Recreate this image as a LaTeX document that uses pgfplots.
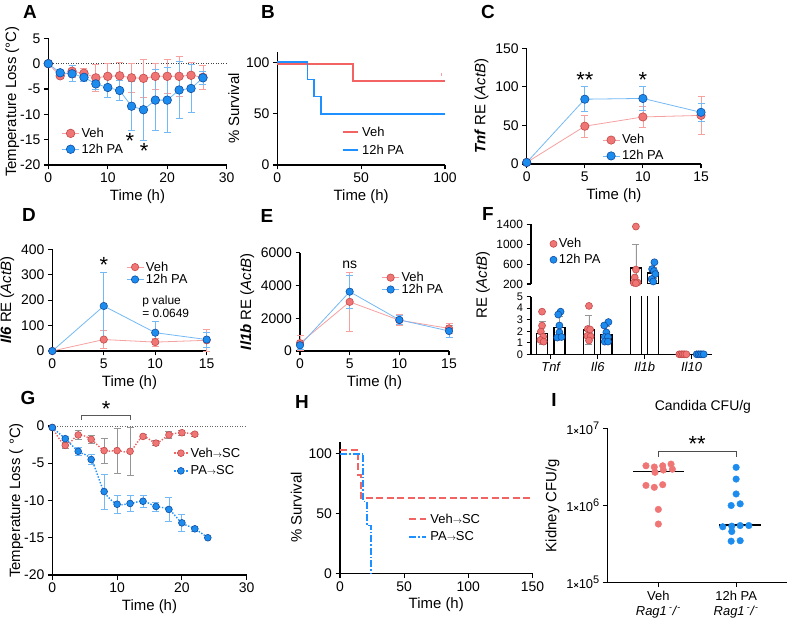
\documentclass[border=0pt]{standalone}
\usepackage{pgfplots}
\usepackage{pgfplotstable}
\pgfplotsset{compat=1.18}
\usepackage{fontspec}
\setmainfont{Liberation Sans}

\definecolor{vr}{RGB}{240,118,118}
\definecolor{vrd}{RGB}{196,74,74}
\definecolor{pb}{RGB}{28,140,238}
\definecolor{pbd}{RGB}{18,78,160}
\definecolor{vl}{RGB}{246,160,160}
\definecolor{pl}{RGB}{115,185,245}
\definecolor{vline}{RGB}{242,100,100}
\definecolor{pline}{RGB}{30,144,255}
\definecolor{gr}{RGB}{150,150,150}

\newcommand\fTk{\fontsize{14}{16}\selectfont}
\newcommand\fLb{\fontsize{15}{17}\selectfont}
\newcommand\fLg{\fontsize{13}{15}\selectfont}
\newcommand\fPl{\fontsize{19}{21}\selectfont\bfseries}
\newcommand\fSt{\fontsize{22}{22}\selectfont}
\newcommand\arr{{\fontsize{9}{9}\selectfont$\rightarrow$}}
\newcommand\tenpow[1]{1{\fontsize{9}{9}\selectfont\bfseries ×}10\raisebox{5bp}{\fontsize{11}{11}\selectfont #1}}

% ---------- A
\pgfplotstableread{
t v e
0 0 0
2 -2.4 0.6
4 -1.5 1.2
6 -1.9 1.0
8 -2.8 2.6
10 -2.5 2.5
12 -2.4 2.6
14 -2.8 2.9
16 -2.9 3.7
18 -2.5 2.5
20 -2.5 3.4
22 -2.5 3.9
24 -2.3 2.5
26 -2.7 2.3
}\Aveh
\pgfplotstableread{
t v e
0 0 0
2 -1.8 0.5
4 -2.0 1.6
6 -2.7 0.8
8 -4.0 1.0
10 -4.7 2.0
12 -5.3 2.0
14 -8.4 4.8
16 -9.1 6.0
18 -7.2 6.0
20 -7.2 6.4
22 -5.2 5.6
24 -4.9 4.8
26 -2.8 1.2
}\Apa
% ---------- C
\pgfplotstableread{
t v e
0 2 0
5 49 14
10 61 14
15 63 24
}\Cveh
\pgfplotstableread{
t v e
0 2 0
5 84 16
10 85 15
15 67 12
}\Cpa
% ---------- D
\pgfplotstableread{
t v e
0 0 0
5 45 35
10 35 15
15 42 43
}\Dveh
\pgfplotstableread{
t v e
0 0 0
5 177 134
10 72 43
15 45 30
}\Dpa
% ---------- E
\pgfplotstableread{
t v e
0 480 450
5 3000 1820
10 1880 330
15 1380 300
}\Eveh
\pgfplotstableread{
t v e
0 350 250
5 3620 1000
10 1900 300
15 1220 370
}\Epa
% ---------- G
\pgfplotstableread{
t v e
0 -0.2 0
2 -2.6 0.4
4 -1.2 0.6
6 -1.8 0.5
8 -3.3 1.7
10 -3.3 3.0
12 -3.4 3.2
14 -1.4 0.3
16 -2.3 0.3
18 -1.2 0.5
20 -0.9 0.3
22 -1.1 0.3
}\Gveh
\pgfplotstableread{
t v e
0 -0.2 0
2 -1.7 0.3
4 -3.4 0.5
6 -4.5 0.7
8 -8.8 2.35
10 -10.5 1.2
12 -10.4 1.1
14 -10.1 0.8
16 -10.8 0.6
18 -11.2 1.55
20 -13.0 1.15
22 -13.8 0.3
24 -15.0 0
}\Gpa

\pgfplotsset{
 pan/.style={scale only axis, anchor=south west,
   axis x line*=bottom, axis y line*=left,
   axis line style={line width=1.3bp,-,black},
   every tick/.style={line width=1.1bp,black},
   tick align=outside, major tick length=4.5bp,
   tick label style={font=\fTk}, label style={font=\fLb},
   /pgf/number format/assume math mode=true,
   /pgf/number format/set thousands separator={},
   legend style={draw=none, fill=none, font=\fLg, inner sep=0pt, row sep=1bp, nodes={inner sep=2bp}},
   legend cell align=left, clip=false},
 eb/.style={/pgfplots/error bars/y dir=both, /pgfplots/error bars/y explicit,
   /pgfplots/error bars/error bar style={color=#1, line width=0.8bp, solid},
   /pgfplots/error bars/error mark options={rotate=90, mark size=3.5bp, color=#1, line width=0.8bp, solid}},
 mveh/.style={mark=*, mark size=#1, mark options={fill=vr, draw=vrd, line width=0.6bp, solid}},
 mpa/.style={mark=*, mark size=#1, mark options={fill=pb, draw=pbd, line width=0.6bp, solid}},
}

\begin{document}
\begin{tikzpicture}
\useasboundingbox (0,0) rectangle (788bp,623bp);

% ================= A
\begin{axis}[pan, at={(48.3bp,458bp)}, width=178.4bp, height=126.7bp,
  xmin=0,xmax=30, ymin=-20,ymax=5, xtick={0,10,20,30}, ytick={-20,-15,...,5},
  xlabel={Time (h)}, ylabel={Temperature Loss (°C)}, ylabel shift=-6bp,
  legend style={at={(0.074,0.31)}, anchor=north west}]
\addplot[forget plot, black!75, line width=0.8bp, dash pattern=on 1bp off 1.5bp] coordinates {(0,0)(30,0)};
\addplot[vl, line width=0.8bp, mveh=4.3bp, eb=vl] table[x=t,y=v,y error=e]{\Aveh};
\addlegendentry{Veh}
\addplot[pl, line width=0.8bp, mpa=4.3bp, eb=pl] table[x=t,y=v,y error=e]{\Apa};
\addlegendentry{12h PA}
\node[font=\fSt] at (axis cs:13.7,-15.3) {*};
\node[font=\fSt] at (axis cs:16.1,-17.3) {*};
\end{axis}

% ================= B
\begin{axis}[pan, at={(277.3bp,458bp)}, width=167.7bp, height=113bp,
  xmin=0,xmax=100, ymin=0,ymax=110, xtick={0,50,100}, ytick={0,50,100},
  xlabel={Time (h)}, ylabel={\% Survival},
  legend image code/.code={\draw[#1, line width=1.8bp] (0bp,0bp)--(15bp,0bp);},
  legend style={at={(0.384,0.37)}, anchor=north west, row sep=0bp, nodes={inner sep=3.5bp}}]
\addplot[vline, line width=1.8bp] coordinates {(0,98.5)(45,98.5)(45,82)(100,82)};
\addlegendentry{Veh}
\addplot[pline, line width=1.8bp] coordinates {(0,100)(18,100)(18,83.3)(22,83.3)(22,66.7)(26,66.7)(26,50)(100,50)};
\addlegendentry{12h PA}
\addplot[forget plot, vl, line width=0.8bp] coordinates {(98,87)(98,90)};
\end{axis}

% ================= C
\begin{axis}[pan, at={(526.7bp,459bp)}, width=174.3bp, height=115.7bp,
  xmin=0,xmax=15, ymin=0,ymax=150, xtick={0,5,10,15}, ytick={0,50,100,150},
  xlabel={Time (h)}, ylabel={\textbf{\textit{Tnf}} RE (\textit{ActB})},
  legend style={at={(0.432,0.273)}, anchor=north west}]
\addplot[vl, line width=0.8bp, mveh=4.2bp, eb=vl] table[x=t,y=v,y error=e]{\Cveh};
\addlegendentry{Veh}
\addplot[pl, line width=0.8bp, mpa=4.2bp, eb=pl] table[x=t,y=v,y error=e]{\Cpa};
\addlegendentry{12h PA}
\node[font=\fSt] at (axis cs:5,109) {**};
\node[font=\fSt] at (axis cs:10,109) {*};
\end{axis}

% ================= D
\begin{axis}[pan, at={(52.3bp,272bp)}, width=154.4bp, height=101.7bp,
  xmin=0,xmax=15, ymin=0,ymax=400, xtick={0,5,10,15}, ytick={0,100,...,400},
  xlabel={Time (h)}, ylabel={\textbf{\textit{Il6}} RE (\textit{ActB})},
  legend style={at={(0.477,0.90)}, anchor=north west, row sep=-2.5bp}]
\addplot[vl, line width=0.8bp, mveh=3.7bp, eb=vl] table[x=t,y=v,y error=e]{\Dveh};
\addlegendentry{Veh}
\addplot[pl, line width=0.8bp, mpa=3.7bp, eb=pl] table[x=t,y=v,y error=e]{\Dpa};
\addlegendentry{12h PA}
\node[font=\fSt] at (axis cs:5,340) {*};
\node[font=\fontsize{12}{13}\selectfont, align=left, anchor=west] at (axis cs:8.4,175) {p value\\= 0.0649};
\end{axis}

% ================= E
\begin{axis}[pan, at={(300bp,272bp)}, width=149bp, height=98.3bp,
  xmin=0,xmax=15, ymin=0,ymax=6000, xtick={0,5,10,15}, ytick={0,2000,4000,6000},
  scaled y ticks=false,
  xlabel={Time (h)}, ylabel={\textbf{\textit{Il1b}} RE (\textit{ActB})},
  legend style={at={(0.547,0.824)}, anchor=north west, row sep=-3bp}]
\addplot[vl, line width=0.8bp, mveh=3.7bp, eb=vl] table[x=t,y=v,y error=e]{\Eveh};
\addlegendentry{Veh}
\addplot[pl, line width=0.8bp, mpa=3.7bp, eb=pl] table[x=t,y=v,y error=e]{\Epa};
\addlegendentry{12h PA}
\node[font=\fTk] at (axis cs:5,5250) {ns};
\end{axis}

% ================= F lower
\begin{axis}[pan, at={(531bp,268.7bp)}, width=180.7bp, height=57.6bp, clip=true,
  xmin=0.58,xmax=4.43, ymin=0,ymax=5, ytick={0,...,5}, xtick={1,2,3,4},
  yticklabel style={font=\fontsize{11}{12}\selectfont},
  xticklabels={Tnf,Il6,Il1b,Il10},
  xticklabel style={font=\fontsize{13}{15}\selectfont\itshape}]
\addplot[ybar, bar width=0.235, bar shift=0pt, fill=white, draw=black, line width=1.3bp,
  eb=gr] coordinates {(0.815,1.82) +- (0,1.0) (1.815,2.1) +- (0,1.25) (3.815,0.03) +- (0,0)};
\addplot[ybar, bar width=0.235, bar shift=0pt, fill=white, draw=black, line width=1.3bp,
  eb=gr] coordinates {(1.185,2.31) +- (0,0.95) (2.185,1.73) +- (0,0.72) (4.185,0.03) +- (0,0)};
\addplot[ybar, bar width=0.235, bar shift=0pt, fill=white, draw=black, line width=1.3bp]
  coordinates {(2.815,520) (3.185,420)};
\addplot[only marks, mveh=3.5bp] coordinates {
 (0.815,3.7) (0.815,2.49) (0.79,1.97) (0.84,1.53) (0.78,1.24) (0.85,1.1)
 (1.815,4.2) (1.79,2.2) (1.84,2.15) (1.78,1.6) (1.85,1.55) (1.815,1.2)
 (3.74,0) (3.78,0) (3.815,0) (3.85,0) (3.89,0)};
\addplot[only marks, mpa=3.5bp] coordinates {
 (1.21,3.7) (1.16,3.45) (1.185,2.5) (1.185,1.9) (1.14,1.45) (1.23,1.5)
 (2.23,2.8) (2.14,2.5) (2.185,1.9) (2.15,1.5) (2.22,1.5) (2.15,1.1) (2.22,1.1)
 (4.11,0) (4.15,0) (4.185,0) (4.22,0) (4.26,0)};
\end{axis}

% ================= F upper
\begin{axis}[pan, at={(531bp,339bp)}, width=180.7bp, height=59.7bp, clip=true,
  axis x line=none, xmin=0.58,xmax=4.43, ymin=200,ymax=1400, ytick={200,600,1000,1400},
  scaled y ticks=false,
  yticklabel style={font=\fontsize{12}{13}\selectfont},
  legend style={at={(0.104,0.80)}, anchor=north west}]
\addplot[forget plot, ybar, bar width=0.235, bar shift=0pt, fill=white, draw=black, line width=1.3bp,
  eb=gr] coordinates {(2.815,520) +- (0,480) (3.185,420) +- (0,115)};
\addplot[only marks, mveh=3.5bp] coordinates {
 (2.815,1355) (2.815,490) (2.79,330) (2.77,225) (2.85,230) (2.815,215)};
\addlegendentry{Veh}
\addplot[only marks, mpa=3.5bp] coordinates {
 (3.21,637) (3.16,500) (3.2,460) (3.23,400) (3.15,300) (3.185,250)};
\addlegendentry{12h PA}
\end{axis}
\node[rotate=90, font=\fLb] at (483bp,338bp) {RE (\textit{ActB})};

% ================= G
\begin{axis}[pan, at={(52.3bp,48bp)}, width=194.4bp, height=149bp,
  xmin=0,xmax=30, ymin=-20,ymax=0, xtick={0,10,20,30}, ytick={-20,-15,...,0},
  xlabel={Time (h)}, ylabel={Temperature Loss ( °C)}, ylabel shift=-6bp,
  legend image code/.code={\draw[mark repeat=2,mark phase=2,#1] plot coordinates {(0bp,0bp)(7bp,0bp)(14bp,0bp)};},
  legend style={at={(0.621,0.869)}, anchor=north west, row sep=3bp}]
\addplot[forget plot, black!60, line width=0.8bp, dash pattern=on 1bp off 1.5bp] coordinates {(0,0)(30,0)};
\addplot[vline, smooth, line width=1.4bp, dash pattern=on 1.4bp off 1.6bp, mveh=3.4bp, eb=gr] table[x=t,y=v,y error=e]{\Gveh};
\addlegendentry{Veh\arr SC}
\addplot[pline, smooth, line width=1.4bp, dash pattern=on 1.4bp off 1.6bp, mpa=3.4bp, eb=pl] table[x=t,y=v,y error=e]{\Gpa};
\addlegendentry{PA\arr SC}
\draw[black!65, line width=0.9bp] (axis cs:4.5,0.85) -- (axis cs:4.5,1.4) -- (axis cs:12,1.4) -- (axis cs:12,0.85);
\node[font=\fSt] at (axis cs:8.3,2.3) {*};
\end{axis}

% ================= H
\begin{axis}[pan, at={(340bp,49.7bp)}, width=192.5bp, height=131.6bp,
  xmin=0,xmax=150, ymin=0,ymax=110, xtick={0,50,100,150}, ytick={0,50,100},
  xlabel={Time (h)}, ylabel={\% Survival},
  legend image code/.code={\draw[#1, line width=1.8bp] (0bp,0bp)--(17bp,0bp);},
  legend style={at={(0.353,0.48)}, anchor=north west, row sep=0bp, nodes={inner sep=3.5bp}}]
\addplot[vline, line width=1.8bp, dash pattern=on 7bp off 3.5bp] coordinates {(0,103)(14.3,103)(14.3,82)(16.3,82)(16.3,63)(150,63)};
\addlegendentry{Veh\arr SC}
\addplot[pline, line width=1.8bp, dash pattern=on 7bp off 2bp on 1.5bp off 2bp] coordinates {(0,100)(18.2,100)(18.2,60)(21,60)(21,40)(24,40)(24,0)};
\addlegendentry{PA\arr SC}
\end{axis}

% ================= I
\begin{axis}[pan, ymode=log, at={(607.3bp,40.3bp)}, width=179.4bp, height=154.4bp,
  xmin=0.344,xmax=2.65, ymin=1e5,ymax=1e7, ytick={1e5,1e6,1e7}, yminorticks=false,
  yticklabels={\tenpow{5},\tenpow{6},\tenpow{7}},
  yticklabel style={font=\fontsize{13}{14}\selectfont},
  xtick={1,2}, xticklabels={{Veh\\\textit{Rag1}\,\textsuperscript{-}\textit{/}\textsuperscript{-}},{12h PA\\\textit{Rag1}\,\textsuperscript{-}\textit{/}\textsuperscript{-}}},
  xticklabel style={align=center, font=\fontsize{13}{15}\selectfont},
  ylabel={Kidney CFU/g}]
\addplot[only marks, mark=*, mark size=3.3bp, mark options={fill=vr, draw=vr}] coordinates {
 (0.841,3.27e6) (0.948,3.15e6) (1.056,3.27e6) (1.163,3.44e6) (0.957,2.69e6) (1.064,2.88e6)
 (1.18,2.95e6) (0.841,1.82e6) (0.948,1.72e6) (1.056,1.86e6) (1.0,8.9e5) (1.0,5.75e5)};
\addplot[only marks, mark=*, mark size=3.3bp, mark options={fill=pb, draw=pb}] coordinates {
 (2.0,3.12e6) (2.0,2.2e6) (2.0,1.41e6) (1.936,1.0e6) (2.052,1.05e6)
 (1.828,5.3e5) (1.944,5.4e5) (2.052,5.5e5) (2.163,5.5e5) (1.944,4.6e5)
 (1.936,3.45e5) (2.052,3.5e5)};
\addplot[black, line width=1.8bp] coordinates {(0.678,2.75e6)(1.335,2.75e6)};
\addplot[black, line width=1.8bp] coordinates {(1.785,5.6e5)(2.318,5.6e5)};
\draw[black!70, line width=0.9bp] (axis cs:1,4.3e6) -- (axis cs:1,5.0e6) -- (axis cs:2,5.0e6) -- (axis cs:2,4.3e6);
\node[font=\fSt] at (axis cs:1.5,6.3e6) {**};
\node[font=\fTk] at (rel axis cs:0.533,1.136) {Candida CFU/g};
\end{axis}

% ================= panel letters
\node[font=\fPl] at (30bp,611bp) {A};
\node[font=\fPl] at (268bp,611bp) {B};
\node[font=\fPl] at (488bp,611bp) {C};
\node[font=\fPl] at (29bp,408bp) {D};
\node[font=\fPl] at (267bp,407bp) {E};
\node[font=\fPl] at (488bp,409bp) {F};
\node[font=\fPl] at (28bp,225bp) {G};
\node[font=\fPl] at (302bp,221bp) {H};
\node[font=\fPl] at (554bp,223bp) {I};
\end{tikzpicture}
\end{document}
